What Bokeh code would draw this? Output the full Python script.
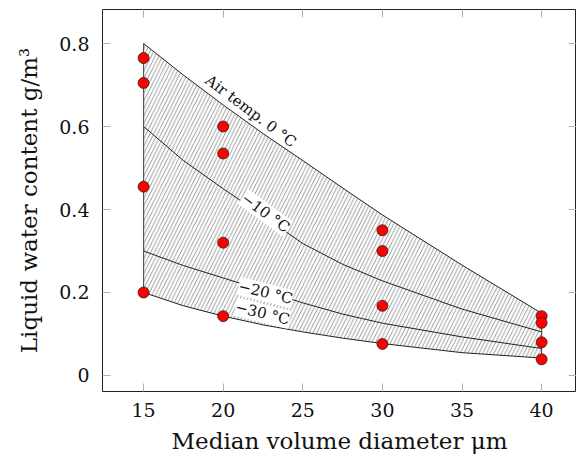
from bokeh.plotting import figure
from bokeh.models import LinearAxis, Label, Range1d, FixedTicker
from bokeh.embed import file_html
from bokeh.resources import INLINE
import math

# ---- data ----
diam = [15, 17.5, 20, 22.5, 25, 27.5, 30, 35, 40]
lwc_0c = [0.80, 0.724, 0.652, 0.583, 0.518, 0.452, 0.387, 0.266, 0.15]
lwc_m10c = [0.60, 0.518, 0.45, 0.385, 0.318, 0.268, 0.228, 0.16, 0.105]
lwc_m20c = [0.30, 0.265, 0.235, 0.205, 0.175, 0.148, 0.126, 0.093, 0.065]
lwc_m30c = [0.20, 0.168, 0.143, 0.122, 0.105, 0.09, 0.077, 0.055, 0.042]

obs_diam = [15, 15, 15, 15, 20, 20, 20, 20, 30, 30, 30, 30, 40, 40, 40, 40]
obs_lwc = [0.765, 0.705, 0.455, 0.20, 0.60, 0.535, 0.32, 0.143,
           0.35, 0.30, 0.168, 0.076, 0.143, 0.127, 0.08, 0.039]

x_ticks = [15, 20, 25, 30, 35, 40]
y_ticks = [0, 0.2, 0.4, 0.6, 0.8]

curve_labels = ["Air temp. 0 \u00b0C", "\u221210 \u00b0C", "\u221220 \u00b0C", "\u221230 \u00b0C"]
label_x = [21.4, 22.66, 22.66, 22.47]
label_y = [0.615, 0.392, 0.200, 0.150]
label_angle_deg = [-37, -36, -14, -14]

FONT = "DejaVu Serif"

p = figure(frame_width=474, frame_height=382,
           x_range=Range1d(12.42, 42.19), y_range=Range1d(-0.0386, 0.882),
           output_backend="svg", toolbar_location=None,
           min_border_left=102, min_border_right=0, min_border_top=9, min_border_bottom=70,
           x_axis_label="Median volume diameter \u03bcm",
           y_axis_label="Liquid water content g/m\u00b3")
p.background_fill_color = "white"
p.border_fill_color = "white"
p.outline_line_color = "#222222"
p.outline_line_width = 1
p.xgrid.visible = False
p.ygrid.visible = False

# hatched envelope between 0 C and -30 C
p.varea(x=diam, y1=lwc_m30c, y2=lwc_0c, fill_alpha=0,
        hatch_pattern="/", hatch_color="#8c8c8c", hatch_scale=7.5, hatch_weight=0.9)
# side edges
p.segment(x0=[diam[0], diam[-1]], y0=[lwc_m30c[0], lwc_m30c[-1]],
          x1=[diam[0], diam[-1]], y1=[lwc_0c[0], lwc_0c[-1]],
          line_color="#555555", line_width=1.2)
for ys in (lwc_0c, lwc_m10c, lwc_m20c, lwc_m30c):
    p.line(diam, ys, line_color="#222222", line_width=1)

# curve labels
for i, t in enumerate(curve_labels):
    if i == 0:
        lab = Label(x=label_x[i], y=label_y[i], text=t, angle=math.radians(label_angle_deg[i]),
                    text_align="center", text_baseline="bottom", text_font=FONT,
                    text_font_size="15px", y_offset=2, text_color="#111111")
    else:
        lab = Label(x=label_x[i], y=label_y[i], text=t, angle=math.radians(label_angle_deg[i]),
                    text_align="center", text_baseline="middle", text_font=FONT,
                    text_font_size="15px", background_fill_color="white",
                    background_fill_alpha=1.0, text_color="#111111")
    p.add_layout(lab)

p.scatter(obs_diam, obs_lwc, size=11, fill_color="#ff0000", line_color="#222222", line_width=0.8)

# axes styling
def style_axis(ax, show_labels):
    ax.axis_line_color = None
    ax.major_tick_in = 8
    ax.major_tick_out = 0
    ax.minor_tick_in = 0
    ax.minor_tick_out = 0
    ax.major_tick_line_color = "#b0b0b0"
    ax.major_tick_line_width = 1
    if show_labels:
        ax.major_label_text_font = FONT
        ax.major_label_text_font_size = "19px"
        ax.major_label_text_color = "#111111"
        ax.axis_label_text_font = FONT
        ax.axis_label_text_font_size = "23px"
        ax.axis_label_text_font_style = "normal"
        ax.axis_label_text_color = "#111111"
    else:
        ax.minor_tick_in = 8
        ax.minor_tick_line_color = "#b0b0b0"
        ax.minor_tick_line_width = 1

p.xaxis.ticker = FixedTicker(ticks=x_ticks)
p.yaxis.ticker = FixedTicker(ticks=y_ticks)
p.yaxis.major_label_overrides = {0: "0"}
style_axis(p.xaxis[0], True)
style_axis(p.yaxis[0], True)
p.xaxis.major_label_standoff = 11
p.xaxis.axis_label_standoff = 8
p.yaxis.major_label_standoff = 13
p.yaxis.axis_label_standoff = 14

# top/right: ticks only (as minor ticks, so no labels are drawn)
top = LinearAxis(ticker=FixedTicker(ticks=[], minor_ticks=x_ticks))
right = LinearAxis(ticker=FixedTicker(ticks=[], minor_ticks=y_ticks))
style_axis(top, False)
style_axis(right, False)
p.add_layout(top, "above")
p.add_layout(right, "right")

open("out.html", "w").write(file_html(p, INLINE))
